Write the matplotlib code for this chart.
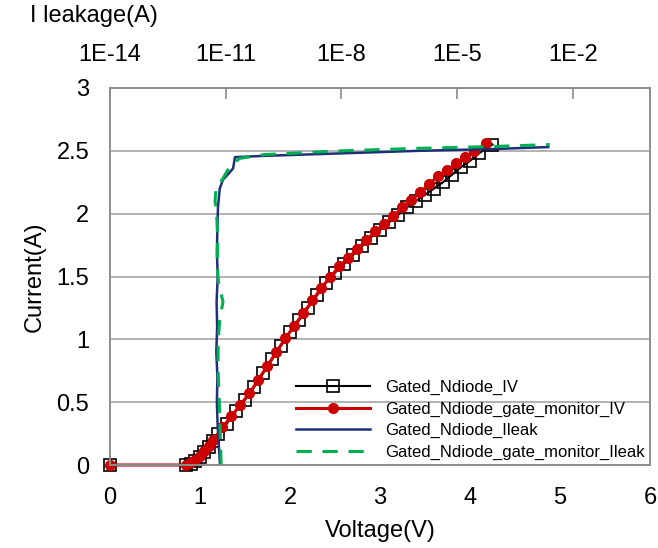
import matplotlib
matplotlib.use("Agg")
import matplotlib.pyplot as plt
from matplotlib.ticker import NullLocator, FixedLocator

plt.rcParams["font.family"] = ["Liberation Sans", "DejaVu Sans"]

# Gated_Ndiode_IV
v_iv = [0, 0.85, 0.9, 0.95, 1.0, 1.05, 1.1, 1.15, 1.2, 1.3, 1.4, 1.5, 1.6, 1.7, 1.8,
        1.9, 2.0, 2.1, 2.2, 2.3, 2.4, 2.5, 2.6, 2.7, 2.8, 2.9, 3.0, 3.1, 3.2, 3.3,
        3.4, 3.5, 3.6, 3.7, 3.8, 3.9, 4.0, 4.1, 4.25]
i_iv = [0, 0, 0.01, 0.03, 0.06, 0.10, 0.14, 0.19, 0.25, 0.33, 0.43, 0.52, 0.62, 0.73, 0.84,
        0.95, 1.06, 1.15, 1.25, 1.35, 1.45, 1.53, 1.60, 1.67, 1.74, 1.81, 1.87, 1.93, 1.99, 2.05,
        2.10, 2.15, 2.20, 2.25, 2.31, 2.37, 2.42, 2.48, 2.55]

# Gated_Ndiode_gate_monitor_IV
v_gm = [0, 0.85, 0.9, 0.95, 1.0, 1.05, 1.1, 1.15, 1.25, 1.35, 1.45, 1.55, 1.65, 1.75,
        1.85, 1.95, 2.05, 2.15, 2.25, 2.35, 2.45, 2.55, 2.65, 2.75, 2.85, 2.95, 3.05,
        3.15, 3.25, 3.35, 3.45, 3.55, 3.65, 3.75, 3.85, 3.95, 4.05, 4.18]
i_gm = [0, 0, 0.02, 0.04, 0.07, 0.11, 0.15, 0.20, 0.30, 0.39, 0.48, 0.57, 0.68, 0.79,
        0.90, 1.01, 1.11, 1.21, 1.31, 1.41, 1.50, 1.58, 1.65, 1.72, 1.79, 1.86, 1.92,
        1.98, 2.05, 2.11, 2.17, 2.24, 2.30, 2.35, 2.40, 2.45, 2.50, 2.56]

# Gated_Ndiode_Ileak (leakage vs current)
leak_nd = [7.1e-12, 6.8e-12, 6.2e-12, 5.9e-12, 6.1e-12, 5.7e-12, 6.0e-12, 5.8e-12, 6.2e-12,
           5.9e-12, 6.1e-12, 6.3e-12, 7.0e-12, 8.5e-12, 1.2e-11, 1.55e-11, 1.74e-11,
           1e-10, 1e-8, 1e-6, 1e-4, 2.3e-3]
i_leak_nd = [0, 0.1, 0.3, 0.5, 0.7, 0.9, 1.1, 1.3, 1.5, 1.7, 1.9, 2.05, 2.2, 2.27, 2.32,
             2.36, 2.45, 2.46, 2.48, 2.50, 2.515, 2.53]

# Gated_Ndiode_gate_monitor_Ileak
leak_gm = [7.6e-12, 7.3e-12, 7.0e-12, 6.6e-12, 6.3e-12, 6.4e-12, 7.0e-12, 8.5e-12, 6.5e-12,
           6.0e-12, 6.2e-12, 5.8e-12, 5.3e-12, 5.6e-12, 8.5e-12, 1.3e-11, 2.3e-11,
           1e-10, 1e-8, 1e-6, 1e-4, 2.5e-3]
i_leak_gm = [0, 0.2, 0.4, 0.6, 0.8, 1.0, 1.15, 1.3, 1.45, 1.6, 1.8, 2.0, 2.1, 2.2, 2.28,
             2.38, 2.44, 2.47, 2.50, 2.52, 2.535, 2.55]

top_ticks = [1e-14, 1e-11, 1e-8, 1e-5, 1e-2]
top_labels = ["1E-14", "1E-11", "1E-8", "1E-5", "1E-2"]

grey = "#8c8c8c"
fs = 17

fig = plt.figure(figsize=(6.58, 5.48), dpi=100)
ax = fig.add_axes([110 / 658, 1 - 465 / 548, 540 / 658, 377 / 548])

l1, = ax.plot(v_iv, i_iv, color="black", lw=1.5, marker="s", ms=8.5,
              mfc="none", mec="black", mew=1.2, label="Gated_Ndiode_IV", clip_on=False)
l2, = ax.plot(v_gm, i_gm, color="#cc0000", lw=2.2, marker="o", ms=7,
              mfc="#cc0000", mec="#cc0000", label="Gated_Ndiode_gate_monitor_IV",
              clip_on=False)

ax.set_xlim(0, 6)
ax.set_ylim(0, 3)
ax.set_xticks([0, 1, 2, 3, 4, 5, 6])
ax.set_yticks([0, 0.5, 1, 1.5, 2, 2.5, 3])
ax.set_yticklabels(["0", "0.5", "1", "1.5", "2", "2.5", "3"])
ax.grid(axis="y", color="#a6a6a6", lw=1.2)
ax.set_axisbelow(True)
ax.tick_params(axis="x", length=0, pad=16, labelsize=fs)
ax.tick_params(axis="y", length=0, pad=15, labelsize=fs)
for s in ax.spines.values():
    s.set_color(grey)
    s.set_linewidth(1.2)
ax.set_xlabel("Voltage(V)", fontsize=fs, labelpad=8)
ax.set_ylabel("Current(A)", fontsize=fs, labelpad=8)

ax2 = ax.twiny()
l3, = ax2.plot(leak_nd, i_leak_nd, color="#1f2f7a", lw=1.8, label="Gated_Ndiode_Ileak")
l4, = ax2.plot(leak_gm, i_leak_gm, color="#00b050", lw=2.2, ls=(0, (5, 3.5)),
               label="Gated_Ndiode_gate_monitor_Ileak")
ax2.set_xscale("log")
ax2.set_xlim(1e-14, 1)
ax2.xaxis.set_major_locator(FixedLocator(top_ticks))
ax2.xaxis.set_minor_locator(NullLocator())
ax2.set_xticklabels(top_labels)
ax2.tick_params(axis="x", direction="in", length=8, width=1.2, color=grey,
                pad=16, labelsize=fs)
for s in ax2.spines.values():
    s.set_color(grey)
    s.set_linewidth(1.2)

leg = ax2.legend(handles=[l1, l2, l3, l4], loc="lower right", bbox_to_anchor=(1.002, -0.005),
                 fontsize=12, frameon=True, fancybox=False, framealpha=0,
                 edgecolor=grey, handlelength=4.4, handletextpad=0.9,
                 labelspacing=0.4, borderaxespad=0, borderpad=0.4)
leg.get_frame().set_linewidth(1.0)

fig.text(30 / 658, 1 - 16 / 548, "I leakage(A)", fontsize=fs, va="center", ha="left")

fig.savefig("out.png", dpi=100)
plt.close(fig)
